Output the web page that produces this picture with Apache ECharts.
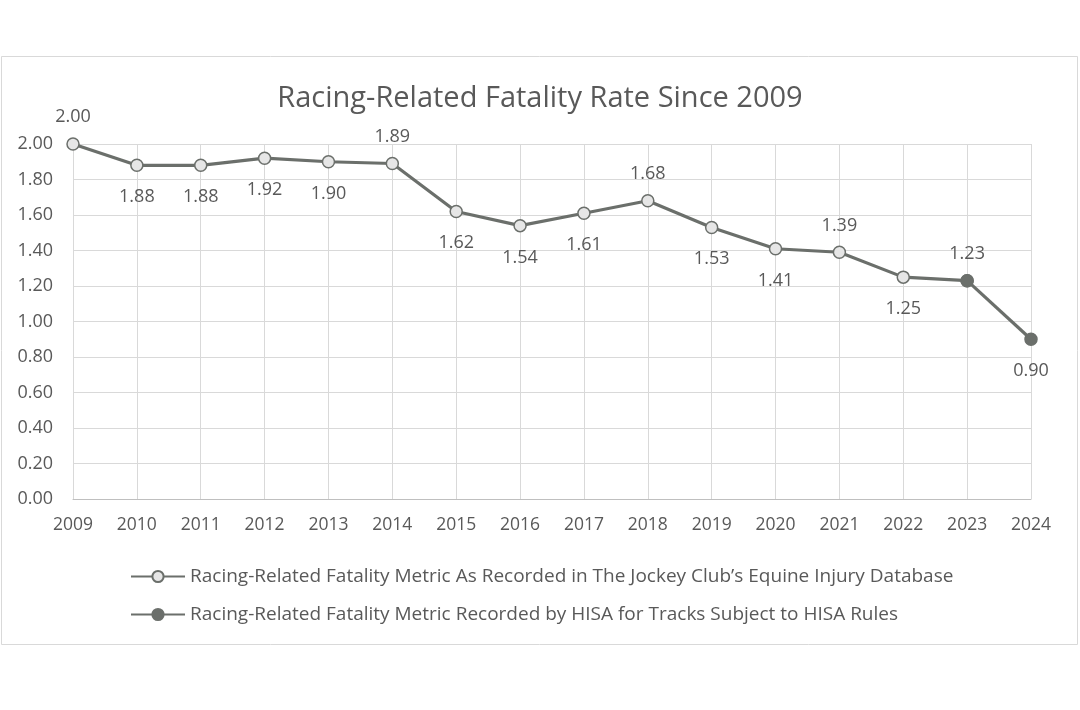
<!DOCTYPE html>
<html><head><meta charset="utf-8">
<script src="https://cdn.jsdelivr.net/npm/echarts@6/dist/echarts.min.js"></script>
<style>html,body{margin:0;padding:0;background:#fff}#c{width:1080px;height:710px}</style>
</head><body><div id="c"></div>
<script>
const years = ['2009','2010','2011','2012','2013','2014','2015','2016','2017','2018','2019','2020','2021','2022','2023','2024'];
const jockeyClub = [2.00,1.88,1.88,1.92,1.90,1.89,1.62,1.54,1.61,1.68,1.53,1.41,1.39,1.25,1.23,null];
const hisa = [null,null,null,null,null,null,null,null,null,null,null,null,null,null,1.23,0.90];
const jcLabelSide = ['top','bottom','bottom','bottom','bottom','top','bottom','bottom','bottom','top','bottom','bottom','top','bottom','none','none'];
const hisaLabelSide = [null,null,null,null,null,null,null,null,null,null,null,null,null,null,'top','bottom'];
const yTicks = [0,0.2,0.4,0.6,0.8,1.0,1.2,1.4,1.6,1.8,2.0];

const FONT = "'Open Sans', sans-serif";
const TXT = '#595959';
const LINE = '#6b6f6b';

function labelled(values, sides) {
  return values.map((v, i) => {
    if (v === null) return null;
    const s = sides[i];
    if (s === 'none') return { value: v, label: { show: false } };
    return { value: v, label: { show: true, position: s, distance: s === 'top' ? 11 : 16 } };
  });
}

const chart = echarts.init(document.getElementById('c'));
chart.setOption({
  backgroundColor: '#fff',
  animation: false,
  textStyle: { fontFamily: FONT },
  graphic: [{ type: 'rect', shape: { x: 1.5, y: 56.5, width: 1076, height: 588 }, style: { fill: 'none', stroke: '#d9d9d9', lineWidth: 1 }, silent: true }],
  title: { text: 'Racing-Related Fatality Rate Since 2009', left: 'center', top: 79, textStyle: { fontFamily: FONT, fontSize: 29, fontWeight: 'normal', color: TXT } },
  grid: { left: 73, right: 49, top: 144, bottom: 211 },
  xAxis: {
    type: 'category', data: years, boundaryGap: false,
    axisLine: { lineStyle: { color: '#bfbfbf', width: 1 } },
    axisTick: { show: false },
    splitLine: { show: true, lineStyle: { color: '#d9d9d9', width: 1 } },
    axisLabel: { color: TXT, fontSize: 17.5, fontFamily: FONT, margin: 17 }
  },
  yAxis: {
    type: 'value', min: 0, max: 2, interval: 0.2,
    axisLine: { show: false }, axisTick: { show: false },
    splitLine: { lineStyle: { color: '#d9d9d9', width: 1 } },
    axisLabel: { color: TXT, fontSize: 18, fontFamily: FONT, margin: 20, formatter: v => v.toFixed(2) }
  },
  legend: {
    orient: 'vertical', left: 125, top: 562, itemGap: 19, itemWidth: 54, itemHeight: 14,
    textStyle: { color: TXT, fontSize: 19, fontFamily: FONT },
    data: ['Racing-Related Fatality Metric As Recorded in The Jockey Club\u2019s Equine Injury Database', 'Racing-Related Fatality Metric Recorded by HISA for Tracks Subject to HISA Rules']
  },
  series: [
    {
      name: 'Racing-Related Fatality Metric As Recorded in The Jockey Club\u2019s Equine Injury Database',
      type: 'line', data: labelled(jockeyClub, jcLabelSide),
      symbol: 'circle', symbolSize: 12,
      lineStyle: { color: LINE, width: 3.2 },
      itemStyle: { color: '#e6e6e6', borderColor: LINE, borderWidth: 1.5 },
      label: { color: TXT, fontSize: 18, fontFamily: FONT, formatter: p => p.value.toFixed(2) },
      z: 2
    },
    {
      name: 'Racing-Related Fatality Metric Recorded by HISA for Tracks Subject to HISA Rules',
      type: 'line', data: labelled(hisa, hisaLabelSide),
      symbol: 'circle', symbolSize: 12,
      lineStyle: { color: LINE, width: 3.2 },
      itemStyle: { color: LINE, borderColor: LINE, borderWidth: 1.5 },
      label: { color: TXT, fontSize: 18, fontFamily: FONT, formatter: p => p.value.toFixed(2) },
      z: 3
    }
  ]
});
</script></body></html>
